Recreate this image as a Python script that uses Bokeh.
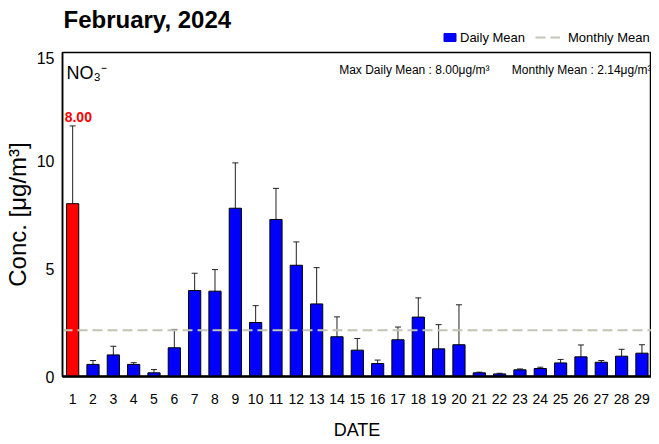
from bokeh.plotting import figure
from bokeh.layouts import column
from bokeh.models import (ColumnDataSource, Whisker, TeeHead, Label, Legend, LegendItem,
                          FixedTicker, Range1d)
from bokeh.embed import file_html
from bokeh.resources import INLINE

days = list(range(1, 30))
means = [8.00, 0.56, 1.00, 0.56, 0.17, 1.33, 3.98, 3.95, 7.79, 2.50,
         7.27, 5.15, 3.36, 1.84, 1.22, 0.60, 1.70, 2.75, 1.28, 1.47,
         0.17, 0.12, 0.31, 0.37, 0.63, 0.91, 0.66, 0.94, 1.08]
errs = [3.60, 0.18, 0.40, 0.08, 0.15, 0.85, 0.80, 1.00, 2.10, 0.78,
        1.44, 1.08, 1.68, 0.92, 0.54, 0.16, 0.59, 0.89, 1.12, 1.85,
        0.03, 0.03, 0.04, 0.06, 0.16, 0.55, 0.08, 0.32, 0.39]
monthly_mean = 2.14
max_mean = max(means)
title_text = "February, 2024"
species = "NO\u2083\u207b"
y_ticks = [0, 5, 10, 15]

FONT = "Liberation Sans"
BLUE = "#0000ff"
RED = "#ff0000"
DASH_COLOR = "#c4c4b4"

W = 651
HEAD_H = 51
MAIN_H = 392
BORDERS = dict(min_border_left=53, min_border_right=0)

# ---------------- header (title + legend) ----------------
header = figure(width=W, height=HEAD_H, output_backend="svg", toolbar_location=None,
                x_range=Range1d(0, 1), y_range=Range1d(0, 1),
                x_axis_type=None, y_axis_type=None,
                min_border_top=0, min_border_bottom=0, **BORDERS)
header.outline_line_color = None
header.xgrid.visible = False
header.ygrid.visible = False
header.background_fill_color = "white"
header.border_fill_color = "white"

header.add_layout(Label(x=1, y=32, x_units="screen", y_units="screen", text=title_text,
                        text_font=FONT, text_font_size="24px", text_font_style="bold",
                        text_baseline="middle", text_color="black"))

# legend proxies (hidden; they only lend their style to the legend)
proxy_bar = header.vbar(x=days[:1], top=means[:1], width=1, fill_color=BLUE,
                        line_color=BLUE, visible=False)
proxy_line = header.line(x=days[:2], y=[monthly_mean, monthly_mean], line_color=DASH_COLOR,
                         line_width=2, line_dash="10 5", visible=False)

leg_common = dict(orientation="horizontal", label_text_font=FONT, label_text_font_size="13px",
                  label_text_color="black", padding=0, margin=0, spacing=0,
                  border_line_color=None, background_fill_alpha=0, label_height=16)
leg1 = Legend(items=[LegendItem(label="Daily Mean", renderers=[proxy_bar])],
              location=(380, 6), glyph_width=15, glyph_height=10, label_standoff=3, **leg_common)
leg2 = Legend(items=[LegendItem(label="Monthly Mean", renderers=[proxy_line])],
              location=(473, 6), glyph_width=25, glyph_height=10, label_standoff=8, **leg_common)
header.add_layout(leg1, "center")
header.add_layout(leg2, "center")

# ---------------- main chart ----------------
colors = [RED if m == max_mean else BLUE for m in means]
src = ColumnDataSource(dict(
    x=days, top=means, color=colors,
    upper=[m + e for m, e in zip(means, errs)],
    lower=[max(m - e, 0) for m, e in zip(means, errs)],
))

p = figure(width=W, height=MAIN_H, output_backend="svg", toolbar_location=None,
           x_range=Range1d(0.5, 29.47), y_range=Range1d(y_ticks[0], y_ticks[-1]),
           min_border_top=1, min_border_bottom=67, **BORDERS)
p.background_fill_color = "white"
p.border_fill_color = "white"
p.xgrid.visible = False
p.ygrid.visible = False
p.outline_line_color = "black"
p.outline_line_width = 1.5

bars = p.vbar(x="x", top="top", width=0.6, source=src, fill_color="color",
              line_color="black", line_width=1)

w = Whisker(source=src, base="x", upper="upper", lower="lower",
            line_color="#222222", line_width=1,
            upper_head=TeeHead(size=6, line_color="#222222", line_width=1),
            lower_head=TeeHead(size=6, line_color="#222222", line_width=1))
p.add_layout(w)

mline = p.line(x=[p.x_range.start, p.x_range.end], y=[monthly_mean, monthly_mean],
               line_color=DASH_COLOR, line_width=2, line_dash="10 5")

p.xaxis.ticker = FixedTicker(ticks=days)
p.yaxis.ticker = FixedTicker(ticks=y_ticks)
for ax in (p.xaxis[0], p.yaxis[0]):
    ax.major_tick_line_color = None
    ax.minor_tick_line_color = None
    ax.major_tick_out = 0
    ax.major_tick_in = 0
    ax.minor_tick_out = 0
    ax.minor_tick_in = 0
    ax.major_label_text_font = FONT
    ax.major_label_text_color = "black"
    ax.axis_label_text_font = FONT
    ax.axis_label_text_font_style = "normal"
    ax.axis_label_text_color = "black"
p.xaxis.axis_line_width = 2.5
p.xaxis.major_label_text_font_size = "14px"
p.xaxis.major_label_standoff = 17
p.xaxis.axis_label = "DATE"
p.xaxis.axis_label_text_font_size = "18px"
p.xaxis.axis_label_standoff = 13
p.yaxis.axis_line_width = 1.5
p.yaxis.major_label_text_font_size = "16px"
p.yaxis.major_label_standoff = 8
p.yaxis.axis_label = "Conc. [\u03bcg/m\u00b3]"
p.yaxis.axis_label_text_font_size = "24px"
p.yaxis.axis_label_standoff = 3

# species label
p.add_layout(Label(x=4, y=304, x_units="screen", y_units="screen", text=species,
                   text_font=FONT, text_font_size="18px", text_baseline="middle",
                   text_color="black"))

# stats texts
p.add_layout(Label(x=427, y=307, x_units="screen", y_units="screen",
                   text=f"Max Daily Mean : {max_mean:.2f}\u03bcg/m\u00b3",
                   text_font=FONT, text_font_size="12px", text_align="right",
                   text_baseline="middle", text_color="black"))
p.add_layout(Label(x=589, y=307, x_units="screen", y_units="screen",
                   text=f"Monthly Mean : {monthly_mean:.2f}\u03bcg/m\u00b3",
                   text_font=FONT, text_font_size="12px", text_align="right",
                   text_baseline="middle", text_color="black"))

# max value label
imax = means.index(max_mean)
p.add_layout(Label(x=days[imax], y=means[imax] + errs[imax], text=f"{max_mean:.2f}",
                   text_font=FONT, text_font_size="14px", text_font_style="bold",
                   text_color=RED, text_align="left", x_offset=-8, y_offset=4,
                   text_baseline="bottom"))

layout = column(header, p, spacing=0)
open("out.html", "w").write(file_html(layout, INLINE))
